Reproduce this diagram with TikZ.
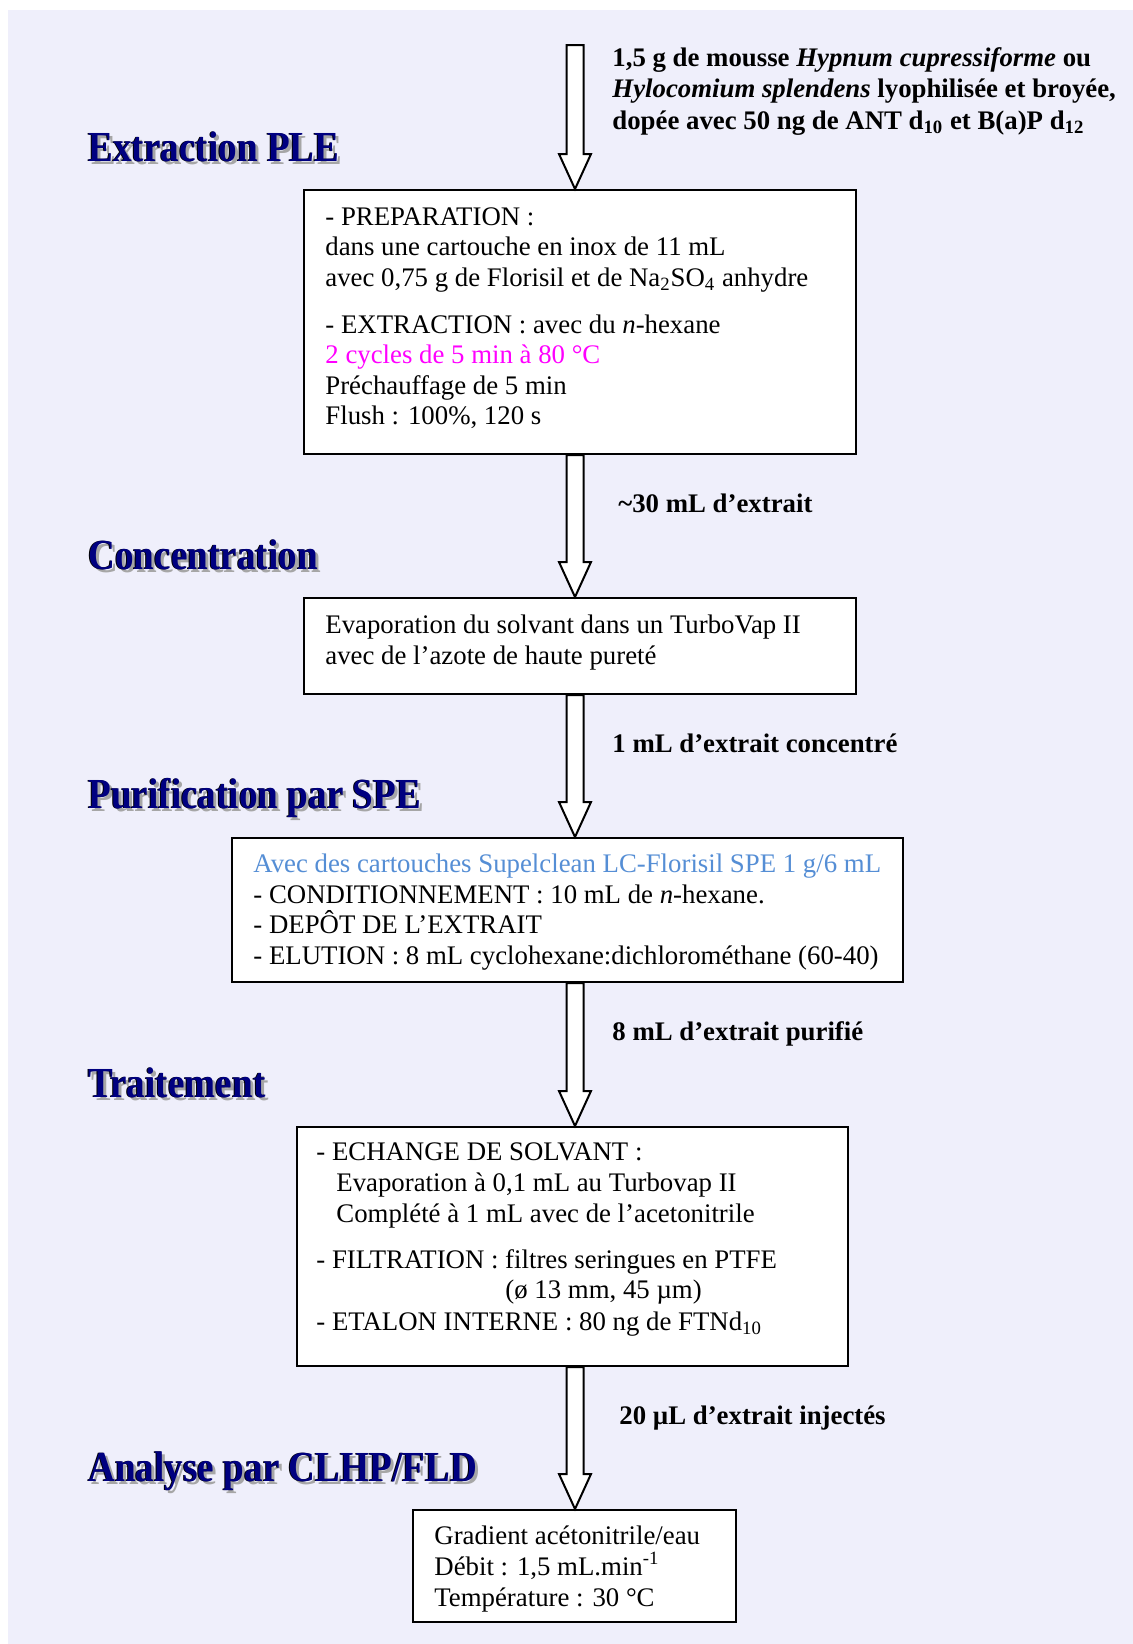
\documentclass[tikz,border=0pt]{standalone}
\usepackage{fontspec}
\setmainfont{Liberation Serif}
\usetikzlibrary{calc}
\definecolor{pagebg}{RGB}{239,239,251}
\definecolor{headblue}{RGB}{0,0,128}
\definecolor{hot}{RGB}{255,0,255}
\definecolor{spe}{RGB}{85,142,213}
\newcommand\bodyfont{\fontsize{13.4pt}{15.25pt}\selectfont}
\newcommand\headfont{\fontsize{18.6pt}{20pt}\selectfont\bfseries}
% tall heading lettering with a grey drop shadow and a dark rim
\newcommand\tallhead[1]{\scalebox{1}[1.15]{#1}}
\newcommand\shadowed[1]{%
  \makebox[0pt][l]{\hspace{1.5pt}\raisebox{-1.5pt}{\textcolor{black!35}{\tallhead{#1}}}}%
  \makebox[0pt][l]{\hspace{-0.5pt}\textcolor{black}{\tallhead{#1}}}%
  \textcolor{headblue}{\tallhead{#1}}}
% hollow block arrow running straight down from #1 to #2
\newcommand\flowarrow[2]{%
  \draw[blockarrow] let \p1=(#1), \p2=(#2) in
    (\x1-4.25pt,\y1) -- (\x1-4.25pt,\y2+17.5pt) -- (\x1-8pt,\y2+17.5pt) -- (\x1,\y2)
    -- (\x1+8pt,\y2+17.5pt) -- (\x1+4.25pt,\y2+17.5pt) -- (\x1+4.25pt,\y1) -- cycle;}
\tikzset{
  box/.style={draw=black, fill=white, line width=1pt, rectangle, inner sep=0},
  line/.style={font=\bodyfont, anchor=base west, inner sep=0},
  note/.style={line, font=\bodyfont\bfseries},
  blockarrow/.style={draw=black, fill=white, line width=1pt, line join=miter},
  heading/.style={font=\headfont, anchor=base west, inner sep=0},
}
\begin{document}
\begin{tikzpicture}[x=0.5pt,y=-0.5pt]
\useasboundingbox (0,0) rectangle (1133,1644);
\fill[pagebg] (8,10) rectangle (1133,1644);

% stage headings
\node[heading] (hA) at (88,161) {\shadowed{Extraction PLE}};
\node[heading] (hB) at (88,569) {\shadowed{Concentration}};
\node[heading] (hC) at (88,808) {\shadowed{Purification par SPE}};
\node[heading] (hD) at (88,1097) {\shadowed{Traitement}};
\node[heading] (hE) at (88,1481) {\shadowed{Analyse par CLHP/FLD}};

% process boxes
\node[box, minimum width=276pt, minimum height=132pt] (b1) at (580,322) {};
\node[box, minimum width=276pt, minimum height=48pt] (b2) at (580,646) {};
\node[box, minimum width=335.5pt, minimum height=72pt] (b3) at (567.5,910) {};
\node[box, minimum width=275.5pt, minimum height=119.5pt] (b4) at (572.5,1246.5) {};
\node[box, minimum width=161.5pt, minimum height=56pt] (b5) at (574.5,1566) {};

% flow arrows
\coordinate (src) at (575,45);
\flowarrow{src}{src |- b1.north}
\flowarrow{src |- b1.south}{src |- b2.north}
\flowarrow{src |- b2.south}{src |- b3.north}
\flowarrow{src |- b3.south}{src |- b4.north}
\flowarrow{src |- b4.south}{src |- b5.north}

% sample description
\node[note] (s1) at (612,66) {1,5 g de mousse \textit{Hypnum cupressiforme} ou};
\node[note] (s2) at (612,97) {\textit{Hylocomium splendens} lyophilisée et broyée,};
\node[note] (s3) at (612,129) {dopée avec 50 ng de ANT d\textsubscript{10} et B(a)P d\textsubscript{12}};

% arrow labels
\node[note] (l1) at (618,512) {\textasciitilde30 mL d’extrait};
\node[note] (l2) at (612,752) {1 mL d’extrait concentré};
\node[note] (l3) at (612,1040) {8 mL d’extrait purifié};
\node[note] (l4) at (619,1424) {20 µL d’extrait injectés};

% PLE extraction
\node[line] (t1a) at (325,225) {- PREPARATION :};
\node[line] (t1b) at (325,255) {dans une cartouche en inox de 11 mL};
\node[line] (t1c) at (325,286) {avec 0,75 g de Florisil et de Na\textsubscript{2}SO\textsubscript{4} anhydre};
\node[line] (t1d) at (325,333) {- EXTRACTION : avec du \textit{n}-hexane};
\node[line, text=hot] (t1e) at (325,363) {2 cycles de 5 min à 80 °C};
\node[line] (t1f) at (325,394) {Préchauffage de 5 min};
\node[line] (t1g) at (325,424) {Flush : 100\%, 120 s};

% concentration
\node[line] (t2a) at (325,633) {Evaporation du solvant dans un TurboVap II};
\node[line] (t2b) at (325,664) {avec de l’azote de haute pureté};

% SPE clean-up
\node[line, text=spe] (t3a) at (253,872) {Avec des cartouches Supelclean LC-Florisil SPE 1 g/6 mL};
\node[line] (t3b) at (253,903) {- CONDITIONNEMENT : 10 mL de \textit{n}-hexane.};
\node[line] (t3c) at (253,933) {- DEPÔT DE L’EXTRAIT};
\node[line] (t3d) at (253,964) {- ELUTION : 8 mL cyclohexane:dichlorométhane (60-40)};

% treatment
\node[line] (t4a) at (316,1160) {- ECHANGE DE SOLVANT :};
\node[line] (t4b) at (336,1191) {Evaporation à 0,1 mL au Turbovap II};
\node[line] (t4c) at (336,1222) {Complété à 1 mL avec de l’acetonitrile};
\node[line] (t4d) at (316,1268) {- FILTRATION : filtres seringues en PTFE};
\node[line] (t4e) at (505,1298) {(ø 13 mm, 45 µm)};
\node[line] (t4f) at (316,1330) {- ETALON INTERNE : 80 ng de FTNd\textsubscript{10}};

% HPLC analysis
\node[line] (t5a) at (434,1544) {Gradient acétonitrile/eau};
\node[line] (t5b) at (434,1575) {Débit : 1,5 mL.min\textsuperscript{-1}};
\node[line] (t5c) at (434,1606) {Température : 30 °C};
\end{tikzpicture}
\end{document}
